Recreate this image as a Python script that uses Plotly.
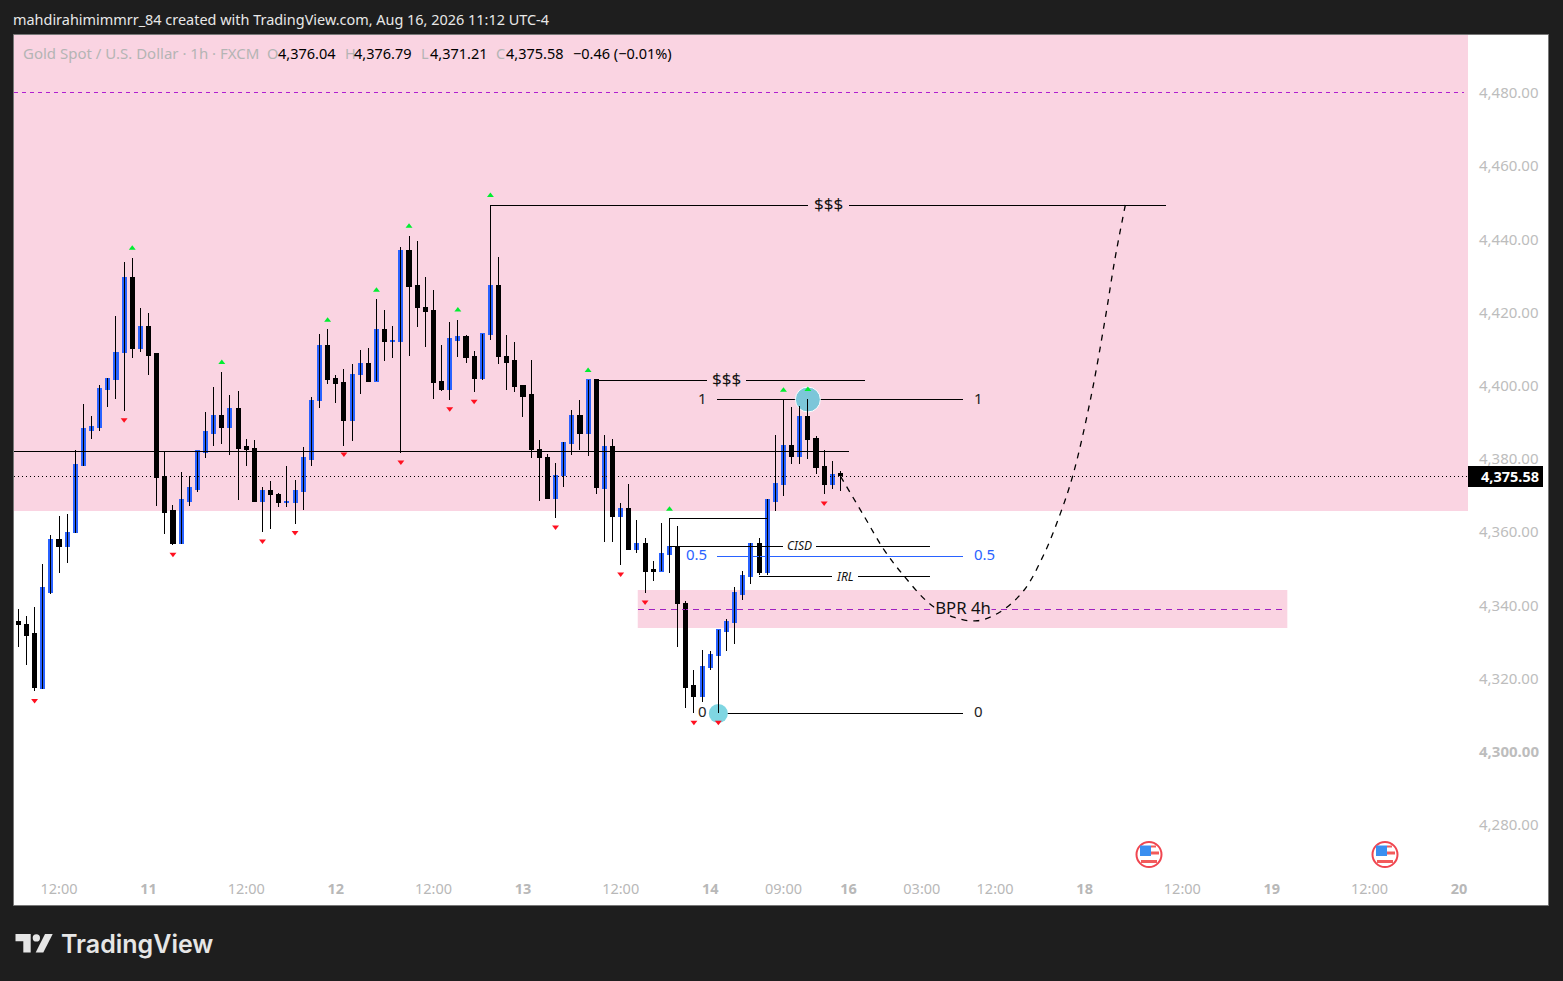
import plotly.graph_objects as go

W, H = 1563, 981
L, R, T, B = 14, 1468, 35, 875

opens = [4335.5,4334.9,4332.2,4317.4,4343.4,4358.1,4356.2,4359.8,4378.1,4387.9,4388.7,4399.1,4401.6,4409.0,4429.5,4410.3,4416.3,4408.7,4375.2,4365.8,
4356.8,4368.5,4371.8,4381.9,4387.1,4392.0,4388.5,4393.9,4383.3,4383.0,4368.5,4371.3,4370.4,4368.2,4368.2,4371.0,4380.0,4395.9,4410.9,4401.9,
4400.8,4390.4,4403.0,4406.0,4401.3,4415.5,4412.2,4412.2,4437.1,4427.3,4421.5,4420.7,4401.3,4398.9,4412.5,4413.6,4407.9,4401.9,4413.9,4427.5,
4408.1,4406.8,4400.0,4397.5,4382.7,4380.5,4369.3,4375.4,4384.1,4391.8,4387.1,4401.6,4372.0,4383.3,4364.4,4366.6,4355.4,4356.8,4349.7,4349.4,
4354.0,4356.2,4340.6,4318.0,4315.2,4322.9,4326.4,4333.0,4335.2,4343.1,4348.0,4356.8,4348.9,4368.5,4372.9,4383.8,4380.8,4391.5,4385.5,4378.0,4372.9,4376.04]
highs = [4339.0,4337.1,4339.6,4351.3,4359.2,4364.4,4365.0,4382.5,4395.0,4391.8,4400.2,4402.1,4419.1,4433.8,4434.9,4421.3,4419.9,4409.0,4382.1,4367.4,
4376.5,4375.4,4382.2,4392.8,4399.7,4403.8,4397.5,4398.6,4385.5,4385.2,4372.4,4374.0,4370.7,4378.1,4374.3,4383.3,4396.9,4414.2,4415.5,4403.0,
4404.6,4406.0,4409.8,4410.3,4423.7,4420.7,4416.3,4437.9,4440.9,4439.6,4429.7,4426.2,4411.2,4417.4,4418.0,4413.9,4409.5,4414.2,4449.3,4435.2,
4413.9,4412.0,4400.2,4407.0,4385.2,4381.4,4378.9,4384.6,4393.4,4396.1,4401.6,4401.6,4386.6,4385.5,4368.0,4373.2,4363.3,4358.4,4352.1,4362.5,
4363.9,4361.7,4341.2,4322.3,4327.8,4327.5,4333.3,4336.3,4345.0,4349.4,4357.0,4358.4,4369.1,4386.6,4396.3,4394.2,4394.5,4396.3,4386.3,4382.5,4379.5,4376.79]
lows = [4328.75,4323.8,4316.5,4317.2,4343.0,4348.9,4351.7,4359.8,4378.1,4385.5,4387.7,4394.2,4396.4,4393.1,4407.6,4409.2,4402.95,4367.2,4359.5,4356.5,
4356.8,4367.2,4371.0,4380.3,4383.6,4384.1,4381.1,4368.8,4378.1,4368.5,4360.1,4360.9,4366.9,4366.9,4362.2,4366.1,4378.1,4393.9,4400.5,4395.3,
4383.6,4384.9,4397.8,4401.3,4401.3,4406.8,4407.6,4381.6,4408.1,4416.1,4410.6,4396.4,4398.6,4396.1,4407.9,4406.2,4398.3,4401.6,4412.5,4406.0,
4398.9,4398.3,4391.5,4380.3,4368.5,4369.1,4363.9,4372.4,4381.1,4382.5,4380.8,4370.4,4357.3,4357.3,4351.0,4355.4,4354.3,4343.4,4346.7,4349.4,
4348.9,4328.6,4312.0,4310.6,4313.6,4322.3,4310.5,4327.5,4329.5,4341.5,4345.8,4348.3,4348.3,4365.8,4369.9,4378.6,4378.6,4380.0,4375.9,4370.4,4371.8,4371.21]
closes = [4334.7,4331.9,4317.5,4345.0,4358.1,4356.2,4360.0,4378.4,4388.2,4389.0,4399.4,4401.9,4409.2,4429.5,4410.3,4416.3,4408.4,4374.9,4365.5,4356.8,
4368.8,4372.1,4382.2,4387.4,4392.0,4388.5,4393.9,4383.0,4382.7,4368.5,4371.3,4370.2,4368.2,4368.5,4371.3,4380.3,4396.1,4410.9,4401.6,4400.5,
4390.4,4403.2,4406.0,4401.3,4415.5,4412.2,4412.5,4437.1,4427.0,4421.3,4420.4,4401.0,4398.9,4412.8,4413.6,4407.6,4401.9,4414.2,4427.5,4407.9,
4406.5,4399.7,4397.2,4382.5,4380.3,4369.3,4375.6,4384.4,4391.8,4387.1,4401.6,4372.1,4383.3,4364.4,4366.6,4355.4,4356.8,4349.4,4349.4,4354.3,
4356.2,4340.4,4317.7,4315.2,4323.2,4326.7,4333.3,4335.5,4343.4,4348.3,4356.8,4348.9,4368.8,4373.2,4383.8,4380.8,4391.5,4385.2,4377.8,4372.9,4375.9,4375.58]
bars = list(range(len(opens)))

swing_high_bars = [14,25,38,44,48,54,58,70,80,94,97]
swing_high_px = [4437.6,4406.4,4417.9,4426.1,4443.6,4420.7,4452.0,4404.2,4366.3,4398.8,4399.0]
swing_low_bars = [2,13,19,30,34,40,47,53,56,66,74,77,83,86,99]
swing_low_px = [4314.0,4390.7,4354.0,4357.6,4359.9,4381.4,4379.2,4393.7,4395.8,4361.4,4348.6,4340.9,4308.1,4308.1,4368.0]

y_ticks = [4280,4300,4320,4340,4360,4380,4400,4420,4440,4460,4480]
y_labels = ["4,280.00","<b>4,300.00</b>","4,320.00","4,340.00","4,360.00","4,380.00","4,400.00","4,420.00","4,440.00","4,460.00","4,480.00"]
x_ticks = [5,16,28,39,51,62,74,85,94,102,111,120,131,143,154,166,177]
x_labels = ["12:00","<b>11</b>","12:00","<b>12</b>","12:00","<b>13</b>","12:00","<b>14</b>","09:00","<b>16</b>","03:00","12:00","<b>18</b>","12:00","<b>19</b>","12:00","<b>20</b>"]

last_price = 4375.219
supply_low = 4365.8
bpr_left, bpr_right, bpr_low, bpr_high, bpr_mid = 76.1, 155.9, 4333.8, 4344.2, 4338.88
upper_level = 4480.137
mid_level = 4382.049
liq_high = 4449.262
liq_mid = 4401.448
fib_left, fib_right, fib_1, fib_05, fib_0 = 85.8, 116.0, 4396.257, 4353.361, 4310.464
cisd = 4356.093
cisd_top = 4363.743
irl = 4347.896
curve_bars = [101,103.9,106.3,108.6,112.0,114.9,117.8,120.6,123.5,125.9,128.0,129.6,131.7,133.5,134.7,136.0]
curve_px = [4375.3,4364.4,4355.4,4348.6,4340.4,4336.8,4335.8,4338.2,4344.0,4353.5,4365.0,4375.9,4396.1,4418.0,4434.4,4449.4]

PINK = "#fad4e2"
BLUE = "#2962ff"
GRAY = "#b4b4b4"
FONT = "Noto Sans"

xmin, xmax = (L - 18.3) / 8.14, (R - 18.3) / 8.14
ymax, ymin = 4480 + (93 - T) / 3.66, 4480 - (B - 93) / 3.66

def px(x): return (x - L) / (R - L)
def py(y): return (B - y) / (B - T)

fig = go.Figure()

def line(xs, ys, color="black", dash=None, width=1, shape="linear"):
    fig.add_trace(go.Scatter(x=xs, y=ys, mode="lines", hoverinfo="skip",
                             line=dict(color=color, width=width, dash=dash, shape=shape)))

line([xmin, 177.6], [upper_level, upper_level], "#b020d0", "4px,4px")
line([bpr_left, bpr_right], [bpr_mid, bpr_mid], "#a020c0", "6px,5px")
line([xmin, xmax], [last_price, last_price], "black", "1px,3px")
line([xmin, 102.1], [mid_level, mid_level])
line([58, 97.0], [liq_high, liq_high])
line([102.1, 141], [liq_high, liq_high])
line([71, 84.6], [liq_mid, liq_mid])
line([89.4, 104], [liq_mid, liq_mid])
line([fib_left, fib_right], [fib_1, fib_1])
line([fib_left, fib_right], [fib_05, fib_05], BLUE)
line([86, fib_right], [fib_0, fib_0])
line([92, 80, 80, 94], [cisd_top, cisd_top, cisd, cisd])
line([98, 112], [cisd, cisd])
line([91, 100], [irl, irl])
line([103.2, 112], [irl, irl])

fig.add_trace(go.Scatter(x=[97], y=[fib_1], mode="markers", hoverinfo="skip",
                         marker=dict(size=25, color="#7cc6d9", line=dict(color="white", width=1))))
fig.add_trace(go.Scatter(x=[86], y=[fib_0], mode="markers", hoverinfo="skip",
                         marker=dict(size=19, color="#7fd6e2")))

fig.add_trace(go.Scatter(
    x=[v for i in bars for v in (i, i, None)],
    y=[v for i in bars for v in (lows[i], highs[i], None)],
    mode="lines", hoverinfo="skip", line=dict(color="black", width=1)))
fig.add_trace(go.Candlestick(
    x=bars, open=opens, high=[max(o, c) for o, c in zip(opens, closes)],
    low=[min(o, c) for o, c in zip(opens, closes)], close=closes, hoverinfo="skip",
    whiskerwidth=0,
    increasing=dict(line=dict(color=BLUE, width=1), fillcolor=BLUE),
    decreasing=dict(line=dict(color="black", width=1), fillcolor="black"),
))

fig.add_trace(go.Scatter(x=swing_high_bars, y=swing_high_px, mode="markers", hoverinfo="skip",
                         marker=dict(symbol="triangle-up", size=6, color="#00ee30", line=dict(width=0))))
fig.add_trace(go.Scatter(x=swing_low_bars, y=swing_low_px, mode="markers", hoverinfo="skip",
                         marker=dict(symbol="triangle-down", size=6, color="#ff1020", line=dict(width=0))))

line(curve_bars, curve_px, "black", "6px,6px", 1.3, "spline")

def poly(points, color):
    path = "M " + " L ".join(f"{px(a):.5f},{py(b):.5f}" for a, b in points) + " Z"
    return dict(type="path", xref="paper", yref="paper", path=path, fillcolor=color, line=dict(width=0))

def box(x0, x1, y0, y1, color):
    return dict(type="rect", xref="paper", yref="paper", x0=px(x0), x1=px(x1), y0=py(y1), y1=py(y0),
                fillcolor=color, line=dict(width=0))

shapes = [
    dict(type="rect", xref="paper", yref="paper", x0=px(13.5), x1=px(1548.5), y0=py(905.5), y1=py(34.5),
         fillcolor="white", line=dict(color="#777777", width=1), layer="below"),
    dict(type="rect", xref="x", yref="y", x0=xmin, x1=xmax, y0=supply_low, y1=ymax,
         fillcolor=PINK, line=dict(width=0), layer="below"),
    dict(type="rect", xref="x", yref="y", x0=bpr_left, x1=bpr_right, y0=bpr_low, y1=bpr_high,
         fillcolor=PINK, line=dict(width=0), layer="below"),
    box(1468, 1543, 466, 487, "black"),
    poly([(15.5, 934), (30.7, 934), (30.7, 952.5), (23.3, 952.5), (23.3, 941.3), (15.5, 941.3)], "#e6e6e6"),
    dict(type="circle", xref="paper", yref="paper", x0=px(32.7), x1=px(40), y0=py(941.6), y1=py(934.3),
         fillcolor="#e6e6e6", line=dict(width=0)),
    poly([(45, 934), (52.7, 934), (43.3, 952.5), (35.7, 952.5)], "#e6e6e6"),
]

for cx in (1149, 1385):
    cy = 854.5
    shapes += [
        dict(type="circle", xref="paper", yref="paper", x0=px(cx - 12.5), x1=px(cx + 12.5), y0=py(cy + 12.5), y1=py(cy - 12.5),
             fillcolor="white", line=dict(color="#f04650", width=2)),
        box(cx - 8, cx + 8, cy + 5.5, cy + 8.5, "#f25b5b"),
        box(cx + 2, cx + 10, cy - 3, cy, "#f25b5b"),
        box(cx + 2, cx + 7, cy - 9, cy - 7, "#f25b5b"),
        box(cx - 9, cx + 2, cy - 9, cy + 1.5, "#3a8ff0"),
    ]

def text(x, y, s, size=14, color="black", anchor="left", xref="paper", yref="paper", **kw):
    return dict(x=x, y=y, xref=xref, yref=yref, text=s, showarrow=False, xanchor=anchor, yanchor="middle",
                font=dict(size=size, color=color, family=kw.pop("family", FONT), weight=kw.pop("weight", "normal")), **kw)

LY = 52.5
ann = [
    text(px(11), py(19), "mahdirahimimmrr_84 created with TradingView.com, Aug 16, 2026 11:12 UTC-4", 14.45, "#e8e8e8"),
    text(px(59), py(943.5), "TradingView", 25, "#e6e6e6", family="Inter", weight=600),
    text(px(21), py(LY), "Gold Spot / U.S. Dollar · 1h · FXCM", 15, GRAY),
    text(px(265), py(LY), "O", 14.5, GRAY), text(px(276), py(LY), "4,376.04", 14.5),
    text(px(343), py(LY), "H", 14.5, GRAY), text(px(352), py(LY), "4,376.79", 14.5),
    text(px(419), py(LY), "L", 14.5, GRAY), text(px(428), py(LY), "4,371.21", 14.5),
    text(px(494), py(LY), "C", 14.5, GRAY), text(px(504), py(LY), "4,375.58", 14.5),
    text(px(571), py(LY), "−0.46 (−0.01%)", 14.5),
    text(99.5, liq_high + 0.5, "$$$", 17, "#111111", "center", "x", "y"),
    text(87.0, liq_mid + 0.5, "$$$", 17, "#111111", "center", "x", "y"),
    text(84.1, fib_1 + 0.5, "1", 15, "#222222", "center", "x", "y"),
    text(118.0, fib_1 + 0.5, "1", 15, "#222222", "center", "x", "y"),
    text(83.3, fib_05 + 0.7, "0.5", 15, BLUE, "center", "x", "y"),
    text(118.7, fib_05 + 0.7, "0.5", 15, BLUE, "center", "x", "y"),
    text(84.1, fib_0 + 0.7, "0", 15, "#222222", "center", "x", "y"),
    text(118.0, fib_0 + 0.7, "0", 15, "#222222", "center", "x", "y"),
    text(96.0, cisd + 0.2, "<i>CISD</i>", 12, "#111111", "center", "x", "y"),
    text(101.6, irl, "<i>IRL</i>", 12, "#111111", "center", "x", "y"),
    dict(x=116, y=bpr_mid + 0.5, xref="x", yref="y", text="BPR 4h", showarrow=False, bgcolor=PINK, borderpad=0,
         width=56, height=13, font=dict(size=16.7, color="#111111", family=FONT)),
    text(px(1509.5), py(476), "<b>4,375.58</b>", 14.5, "white", "center"),
]

fig.update_layout(
    width=W, height=H, autosize=False, showlegend=False,
    margin=dict(l=L, r=W - R, t=T, b=H - B, pad=0),
    paper_bgcolor="#1e1e1e", plot_bgcolor="white",
    shapes=shapes, annotations=ann, boxgap=0.5, boxgroupgap=0,
    xaxis=dict(range=[xmin, xmax], rangeslider=dict(visible=False), showgrid=False, zeroline=False, showline=False,
               tickmode="array", tickvals=x_ticks, ticktext=x_labels, ticks="outside", ticklen=1,
               tickcolor="rgba(0,0,0,0)", tickfont=dict(size=14.5, color="#b8b8b8", family=FONT)),
    yaxis=dict(range=[ymin, ymax], side="right", showgrid=False, zeroline=False, showline=False,
               tickmode="array", tickvals=y_ticks, ticktext=y_labels, ticks="outside", ticklen=7,
               tickcolor="rgba(0,0,0,0)", tickfont=dict(size=15, color="#bdbdbd", family=FONT)),
)
css = (".scatterlayer .js-line,.boxlayer path{shape-rendering:crispEdges}"
       ".scatterlayer .trace:last-child .js-line{shape-rendering:auto}")
fig.write_html("out.html", config=dict(displayModeBar=False),
               post_script="document.body.style.margin='0';document.body.style.background='#1e1e1e';"
                           "var s=document.createElement('style');s.textContent='" + css + "';document.head.appendChild(s);")
